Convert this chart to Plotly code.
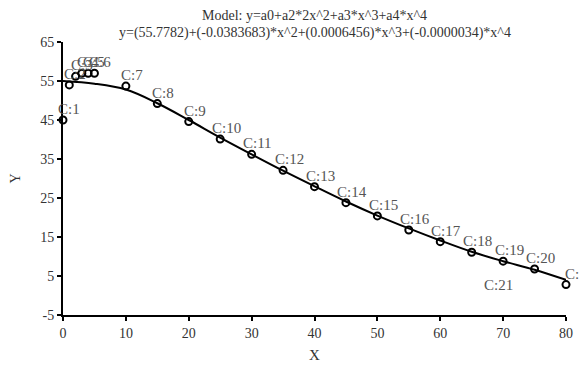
import plotly.graph_objects as go

# Data points
x_pts = [0, 1, 2, 3, 4, 5, 10, 15, 20, 25, 30, 35, 40, 45, 50, 55, 60, 65, 70, 75, 80]
y_pts = [45.0, 54.0, 56.2, 57.0, 57.0, 57.0, 53.7, 49.2, 44.6, 40.1, 36.2, 32.1, 27.9, 23.8,
         20.4, 16.8, 13.8, 11.1, 8.8, 6.8, 2.8]
pt_labels = ["C:1", "C:2", "C:3", "C:4", "C:5", "C:6", "C:7", "C:8", "C:9", "C:10", "C:11",
             "C:12", "C:13", "C:14", "C:15", "C:16", "C:17", "C:18", "C:19", "C:20", "C:"]

# Fitted model curve
x_fit = [0, 5, 10, 15, 20, 25, 30, 35, 40, 45, 50, 55, 60, 65, 70, 75, 80]
y_fit = [55.0, 54.3, 52.8, 49.3, 45.0, 40.5, 36.2, 32.0, 28.0, 24.1, 20.5, 17.2, 14.1, 11.2,
         8.8, 6.6, 4.0]

x_ticks = [0, 10, 20, 30, 40, 50, 60, 70, 80]
x_tick_labels = ["0", "10", "20", "30", "40", "50", "60", "70", "80"]
y_ticks = [-5, 5, 15, 25, 35, 45, 55, 65]
y_tick_labels = ["-5", "5", "15", "25", "35", "45", "55", "65"]

title1 = "Model: y=a0+a2*2x^2+a3*x^3+a4*x^4"
title2 = "y=(55.7782)+(-0.0383683)*x^2+(0.0006456)*x^3+(-0.0000034)*x^4"
x_title = "X"
y_title = "Y"
extra_label = "C:21"
extra_label_pos = (69.2, 2.7)

FONT = "Liberation Serif, Times New Roman, serif"

fig = go.Figure()
fig.add_trace(go.Scatter(
    x=x_fit, y=y_fit, mode="lines", line=dict(color="black", width=2, shape="spline"),
    hoverinfo="skip", showlegend=False))
fig.add_trace(go.Scatter(
    x=x_pts, y=y_pts, mode="markers",
    marker=dict(symbol="circle-open", size=7, color="black", line=dict(width=2, color="black")),
    cliponaxis=False, showlegend=False))

for xv, yv, lab in zip(x_pts, y_pts, pt_labels):
    fig.add_annotation(x=xv, y=yv, text=lab, showarrow=False, xshift=6, yshift=11,
                       font=dict(family=FONT, size=15, color="#555555"))

fig.add_annotation(x=extra_label_pos[0], y=extra_label_pos[1], text=extra_label, showarrow=False,
                   font=dict(family=FONT, size=15, color="#555555"))
fig.add_annotation(xref="paper", yref="paper", x=0.5, y=1, yshift=27, yanchor="middle",
                   text=title1, showarrow=False, font=dict(family=FONT, size=14, color="#333333"))
fig.add_annotation(xref="paper", yref="paper", x=0.5, y=1, yshift=9, yanchor="middle",
                   text=title2, showarrow=False, font=dict(family=FONT, size=14, color="#333333"))
fig.add_annotation(xref="paper", yref="paper", x=0, y=0.5, xshift=-48, xanchor="center",
                   yanchor="middle", textangle=-90, text=y_title, showarrow=False,
                   font=dict(family=FONT, size=14, color="#333333"))
fig.add_annotation(xref="paper", yref="paper", x=0.5, y=0, yshift=-40, xanchor="center",
                   yanchor="middle", text=x_title, showarrow=False,
                   font=dict(family=FONT, size=15, color="#333333"))

axis_common = dict(showgrid=False, zeroline=False, showline=True, linecolor="black", linewidth=2,
                   ticks="outside", ticklen=4, tickwidth=2, tickcolor="black", automargin=False,
                   tickfont=dict(family=FONT, size=14, color="#333333"))
fig.update_xaxes(range=[0, 80], tickvals=x_ticks, ticktext=x_tick_labels, **axis_common)
fig.update_yaxes(range=[-5, 65], tickvals=y_ticks, ticktext=y_tick_labels, **axis_common)

# page body has an 8px margin, so the figure is sized to fit the rest of the window
fig.update_layout(width=579, height=357, margin=dict(l=55, r=21, t=34, b=50),
                  plot_bgcolor="white", paper_bgcolor="white", font=dict(family=FONT))
fig.write_html("out.html")
